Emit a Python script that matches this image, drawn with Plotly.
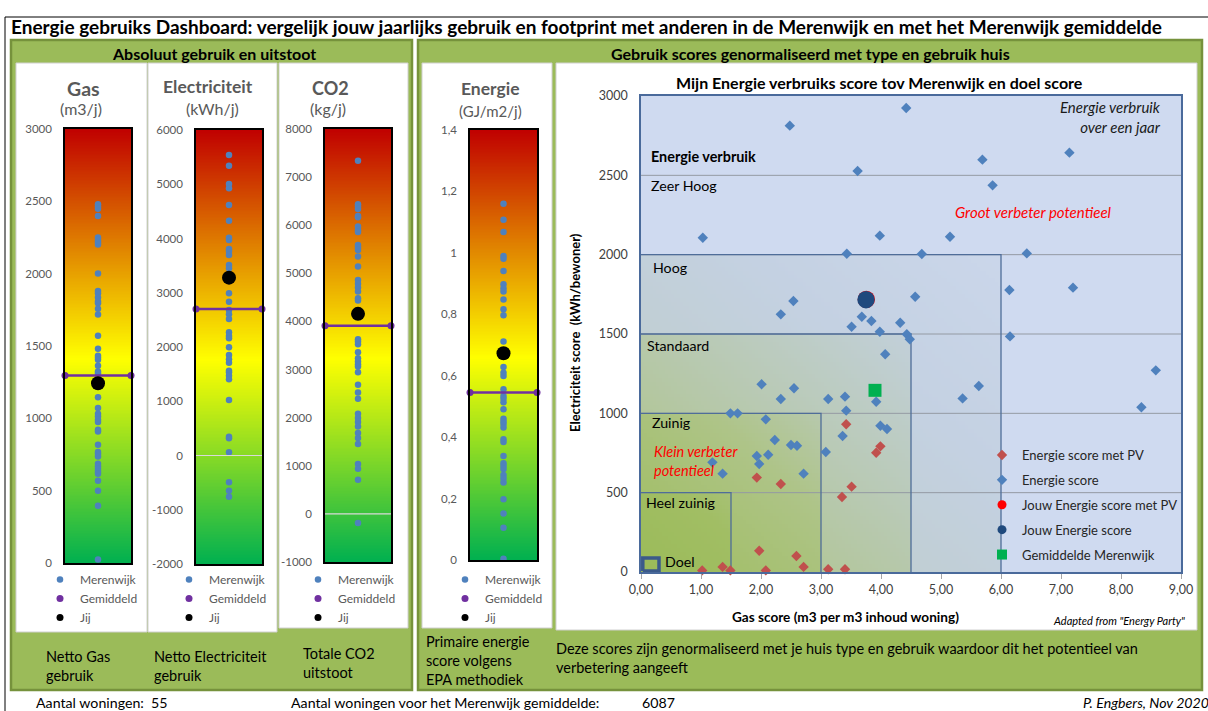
import numpy as np
import plotly.graph_objects as go

W, H = 1208, 711
FONT = "Lato, Carlito, Calibri, sans-serif"


def px(x):
    return x / W


def py(y):
    return 1 - y / H


# ---------------- DATA ----------------
# Gauge columns (Merenwijk households, average, you)
gas_merenwijk = [2480, 2464, 2448, 2399, 2250, 2233, 2217, 2201, 2001, 1881, 1865, 1835, 1807, 1796,
                 1757, 1718, 1570, 1481, 1432, 1419, 1405, 1363, 1324, 1312, 1146, 1071, 1031, 1013,
                 990, 974, 921, 909, 817, 767, 753, 737, 686, 668, 652, 633, 617, 569, 500, 396, 25]
gas_gemiddeld = 1296
gas_jij = 1243

elec_merenwijk = [5539, 5343, 5005, 4925, 4618, 4329, 4015, 3972, 3806, 3770, 3696, 3512, 3450, 2989,
                  2836, 2682, 2602, 2516, 2270, 2203, 2160, 1994, 1853, 1773, 1711, 1564, 1533, 1472,
                  1404, 1023, 347, 316, 58, -495, -649, -759]
elec_gemiddeld = 2700
elec_jij = 3278

co2_merenwijk = [7342, 6435, 6387, 6338, 6193, 6165, 5972, 5902, 5861, 5591, 5535, 5487, 5348, 5141,
                 4864, 4781, 4705, 4622, 4483, 4435, 3632, 3583, 3528, 3362, 3237, 3168, 3112, 3064,
                 2946, 2683, 2524, 2393, 2081, 1991, 1908, 1818, 1680, 1576, 1451, 1036, 939, 710, -190]
co2_gemiddeld = 3908
co2_jij = 4158

energie_merenwijk = [1.160, 1.108, 1.068, 0.990, 0.981, 0.941, 0.898, 0.885, 0.874, 0.848, 0.816,
                     0.797, 0.711, 0.628, 0.610, 0.599, 0.556, 0.534, 0.525, 0.514, 0.491, 0.460,
                     0.451, 0.443, 0.431, 0.393, 0.384, 0.339, 0.315, 0.306, 0.296, 0.277, 0.265,
                     0.252, 0.198, 0.151, 0.105, 0.004]
energie_gemiddeld = 0.545
energie_jij = 0.673

gas_ticks = [0, 500, 1000, 1500, 2000, 2500, 3000]
gas_ticklabels = ["0", "500", "1000", "1500", "2000", "2500", "3000"]
elec_ticks = [-2000, -1000, 0, 1000, 2000, 3000, 4000, 5000, 6000]
elec_ticklabels = ["-2000", "-1000", "0", "1000", "2000", "3000", "4000", "5000", "6000"]
co2_ticks = [-1000, 0, 1000, 2000, 3000, 4000, 5000, 6000, 7000, 8000]
co2_ticklabels = ["-1000", "0", "1000", "2000", "3000", "4000", "5000", "6000", "7000", "8000"]
energie_ticks = [0, 0.2, 0.4, 0.6, 0.8, 1.0, 1.2, 1.4]
energie_ticklabels = ["0", "0,2", "0,4", "0,6", "0,8", "1", "1,2", "1,4"]

# Scatter: normalised scores
score_gas = [4.42, 2.48, 7.14, 5.69, 3.61, 5.86, 1.03, 3.98, 5.15, 3.43, 4.68, 6.43, 6.14, 7.20,
             4.57, 2.54, 2.33, 3.68, 3.84, 3.51, 4.32, 3.98, 4.43, 4.48, 6.15, 4.07, 8.58, 5.63,
             5.36, 8.34, 3.92, 2.01, 2.55, 2.33, 3.12, 3.40, 3.42, 1.49, 1.61, 2.08, 3.99, 4.10,
             2.23, 2.50, 2.60, 3.36, 3.08, 1.93, 2.12, 1.97, 1.19, 1.36, 2.71]
score_elec = [2924, 2813, 2643, 2599, 2527, 2437, 2107, 2120, 2113, 2006, 2004, 2008, 1777, 1792,
              1735, 1708, 1624, 1609, 1582, 1546, 1571, 1514, 1498, 1467, 1485, 1372, 1271, 1172,
              1094, 1038, 1073, 1183, 1158, 1090, 1090, 1105, 1017, 1000, 1000, 962, 922, 901,
              832, 800, 796, 857, 756, 731, 739, 681, 691, 620, 620]
pv_gas = [3.42, 3.99, 3.92, 1.93, 2.33, 3.51, 3.35, 1.97, 2.59, 2.71, 1.36, 1.02, 1.49, 2.08, 3.12, 3.40]
pv_elec = [931, 792, 752, 595, 555, 538, 473, 134, 101, 32, 32, 10, 10, 10, 17, 17]
jouw_gas = [3.75]
jouw_elec = [1716]
jouw_pv_gas = [3.755]
jouw_pv_elec = [1718]
gem_gas = [3.90]
gem_elec = [1145]

score_xticks = [0, 1, 2, 3, 4, 5, 6, 7, 8, 9]
score_xticklabels = ["0,00", "1,00", "2,00", "3,00", "4,00", "5,00", "6,00", "7,00", "8,00", "9,00"]
score_yticks = [0, 500, 1000, 1500, 2000, 2500, 3000]
score_yticklabels = ["0", "500", "1000", "1500", "2000", "2500", "3000"]

# category boundaries (Heel zuinig, Zuinig, Standaard, Hoog)
level_gas = [1.5, 3.0, 4.5, 6.0]
level_elec = [500, 1000, 1500, 2000]
doel_gas = [0.03, 0.30]
doel_elec = [6, 88]
grid_elec = [500, 1000, 1500, 2000, 2500]

# ---------------- FIGURE ----------------
fig = go.Figure()
annotations = []
shapes = []


def T(text, x, y, size=13, color="#000000", bold=False, italic=False, xanchor="left",
      yanchor="middle", align="left", angle=0):
    if bold:
        text = "<b>" + text + "</b>"
    if italic:
        text = "<i>" + text + "</i>"
    annotations.append(dict(text=text, x=px(x), y=py(y), xref="paper", yref="paper",
                            xanchor=xanchor, yanchor=yanchor, showarrow=False, align=align,
                            textangle=angle, font=dict(size=size, color=color, family=FONT)))


def R(x0, y0, x1, y1, fill=None, line="#000000", lw=1, layer="below"):
    shapes.append(dict(type="rect", xref="paper", yref="paper", x0=px(x0), x1=px(x1),
                       y0=py(y0), y1=py(y1), fillcolor=fill if fill else "rgba(0,0,0,0)",
                       line=dict(color=line, width=lw), layer=layer))


# panels
R(5, 17, 1400, 900, None, "#000000", 1)
R(11, 40, 412, 690, "#9BBB59", "#76923C", 2.5)
R(418, 40, 1202, 690, "#9BBB59", "#76923C", 2.5)
R(16, 63, 147, 632, "white", "#D0D0D0", 1)
R(148, 63, 277, 632, "white", "#D0D0D0", 1)
R(279, 63, 408, 628, "white", "#D0D0D0", 1)
R(422, 63, 552, 628, "white", "#D0D0D0", 1)
R(556, 63, 1197, 630, "white", "#D0D0D0", 1)

GAUGE_CS = [[0, "#00B050"], [0.47, "#FFFF00"], [1, "#C00000"]]

gauges = [
    dict(n=2, vals=gas_merenwijk, avg=gas_gemiddeld, jij=gas_jij, rng=[0, 3000],
         tv=gas_ticks, tt=gas_ticklabels, xd=(65, 131), yd=(129, 563), lx=40),
    dict(n=3, vals=elec_merenwijk, avg=elec_gemiddeld, jij=elec_jij, rng=[-2000, 6000],
         tv=elec_ticks, tt=elec_ticklabels, xd=(196, 262), yd=(130, 564), lx=169),
    dict(n=4, vals=co2_merenwijk, avg=co2_gemiddeld, jij=co2_jij, rng=[-1000, 8000],
         tv=co2_ticks, tt=co2_ticklabels, xd=(325, 391), yd=(129, 562), lx=298),
    dict(n=5, vals=energie_merenwijk, avg=energie_gemiddeld, jij=energie_jij, rng=[0, 1.4],
         tv=energie_ticks, tt=energie_ticklabels, xd=(470, 537), yd=(130, 560), lx=445),
]

layout_axes = {}
for g in gauges:
    n = g["n"]
    xa, ya = "x%d" % n, "y%d" % n
    lg = "legend%d" % n
    r0, r1 = g["rng"]
    edges = np.linspace(r0, r1, 301)
    centers = (edges[:-1] + edges[1:]) / 2
    zcol = [[(c - r0) / (r1 - r0)] for c in centers]
    fig.add_trace(go.Heatmap(x=[-1, 1], y=edges, z=zcol, colorscale=GAUGE_CS, zmin=0, zmax=1,
                             showscale=False, hoverinfo="skip", xaxis=xa, yaxis=ya))
    fig.add_trace(go.Scatter(x=[0] * len(g["vals"]), y=g["vals"], mode="markers", name="Merenwijk",
                             marker=dict(color="#4F81BD", size=6.5), xaxis=xa, yaxis=ya, legend=lg))
    fig.add_trace(go.Scatter(x=[-1, 1], y=[g["avg"], g["avg"]], mode="lines", showlegend=False,
                             line=dict(color="#7030A0", width=2.5), cliponaxis=False,
                             xaxis=xa, yaxis=ya, hoverinfo="skip"))
    fig.add_trace(go.Scatter(x=[-1, 1], y=[g["avg"], g["avg"]], mode="markers", name="Gemiddeld",
                             marker=dict(color="#7030A0", size=7), cliponaxis=False,
                             xaxis=xa, yaxis=ya, legend=lg))
    fig.add_trace(go.Scatter(x=[0], y=[g["jij"]], mode="markers", name="Jij",
                             marker=dict(color="black", size=[7], sizeref=0.5, sizemode="diameter",
                                         opacity=1, line=dict(width=0)),
                             xaxis=xa, yaxis=ya, legend=lg))
    if r0 < 0:
        shapes.append(dict(type="line", xref=xa + " domain", yref=ya, x0=0, x1=1, y0=0, y1=0,
                           line=dict(color="#D9D9D9", width=1.2), layer="above"))
    layout_axes["xaxis%d" % n] = dict(domain=[px(g["xd"][0]), px(g["xd"][1])], range=[-1, 1],
                                      anchor=ya, showticklabels=False, showgrid=False, zeroline=False,
                                      showline=True, mirror=True, linecolor="black", linewidth=1.5,
                                      layer="above traces", fixedrange=True, automargin=False)
    layout_axes["yaxis%d" % n] = dict(domain=[py(g["yd"][1]), py(g["yd"][0])], range=[r0, r1],
                                      anchor=xa, tickvals=g["tv"], ticktext=g["tt"], ticks="",
                                      tickfont=dict(size=11.5, color="#595959", family=FONT),
                                      ticklabelstandoff=9, showgrid=False, zeroline=False,
                                      showline=True, mirror=True, linecolor="black", linewidth=1.5,
                                      layer="above traces", fixedrange=True, automargin=False)
    layout_axes[lg] = dict(x=px(g["lx"]), y=py(565), xanchor="left", yanchor="top",
                           bgcolor="rgba(0,0,0,0)", font=dict(size=12, color="#595959", family=FONT),
                           tracegroupgap=0, itemwidth=30)

# ---- scatter background gradient (style only) ----
gx = np.arange(0.025, 9, 0.05)
gy = np.arange(12.5, 3000, 25)
GX, GY = np.meshgrid(gx, gy)
GZ = np.zeros_like(GX)
for bx, by in zip(level_gas, level_elec):
    inside = (GX <= bx) & (GY <= by)
    GZ += 0.25 * inside * (1 - 0.4 * (GX / bx + GY / by))
BG_CS = [[0, "#CFDAF0"], [0.12, "#C4D1E2"], [0.3, "#B8C9B2"], [0.45, "#AEC488"],
         [0.7, "#A1BE64"], [1, "#9BBB59"]]
fig.add_trace(go.Heatmap(x=gx, y=gy, z=GZ, colorscale=BG_CS, zmin=0, zmax=1, showscale=False,
                         hoverinfo="skip", xaxis="x", yaxis="y"))

# gridlines
glx, gly = [], []
for v in grid_elec:
    glx += [0, 9, None]
    gly += [v, v, None]
fig.add_trace(go.Scatter(x=glx, y=gly, mode="lines", line=dict(color="#949AA3", width=1),
                         showlegend=False, hoverinfo="skip"))
# category boxes
bxs, bys = [], []
for bx, by in zip(level_gas, level_elec):
    bxs += [0, bx, bx, None]
    bys += [by, by, 0, None]
fig.add_trace(go.Scatter(x=bxs, y=bys, mode="lines", line=dict(color="#4F6D99", width=1.3),
                         showlegend=False, hoverinfo="skip", cliponaxis=False))
fig.add_trace(go.Scatter(x=[doel_gas[0], doel_gas[1], doel_gas[1], doel_gas[0], doel_gas[0]],
                         y=[doel_elec[0], doel_elec[0], doel_elec[1], doel_elec[1], doel_elec[0]],
                         mode="lines", line=dict(color="#3B5A8A", width=3.5), showlegend=False,
                         hoverinfo="skip", cliponaxis=False))

fig.add_trace(go.Scatter(x=pv_gas, y=pv_elec, mode="markers", name="Energie score met PV",
                         marker=dict(symbol="diamond", color="#C0504D", size=8),
                         legendgroup="a", cliponaxis=False))
fig.add_trace(go.Scatter(x=score_gas, y=score_elec, mode="markers", name="Energie score",
                         marker=dict(symbol="diamond", color="#4F81BD", size=8),
                         legendgroup="b"))
fig.add_trace(go.Scatter(x=jouw_pv_gas, y=jouw_pv_elec, mode="markers", name="Jouw Energie score met PV",
                         marker=dict(color="#FF0000", size=[9], sizeref=0.52, sizemode="diameter",
                                     opacity=1, line=dict(width=0)),
                         legendgroup="c"))
fig.add_trace(go.Scatter(x=jouw_gas, y=jouw_elec, mode="markers", name="Jouw Energie score",
                         marker=dict(color="#1F497D", size=[9], sizeref=0.52, sizemode="diameter",
                                     opacity=1, line=dict(width=0)),
                         legendgroup="d"))
fig.add_trace(go.Scatter(x=gem_gas, y=gem_elec, mode="markers", name="Gemiddelde Merenwijk",
                         marker=dict(symbol="square", color="#00B050", size=[10], sizeref=0.77,
                                     sizemode="diameter", opacity=1, line=dict(width=0)),
                         legendgroup="e"))

# ---------------- TEXT ----------------
T("Energie gebruiks Dashboard: vergelijk jouw jaarlijks gebruik en footprint met anderen in de "
  "Merenwijk en met het Merenwijk gemiddelde", 9, 27, 19, bold=True)
T("Absoluut gebruik en uitstoot", 214, 53, 16, bold=True, xanchor="center")
T("Gebruik scores genormaliseerd met type en gebruik huis", 810, 53, 16, bold=True, xanchor="center")

GRAY = "#595959"
T("Gas", 83, 88, 19.5, GRAY, bold=True, xanchor="center")
T("(m3/j)", 81, 109, 16, GRAY, xanchor="center")
T("Electriciteit", 208, 86, 17.5, GRAY, bold=True, xanchor="center")
T("(kWh/j)", 212, 108, 16, GRAY, xanchor="center")
T("CO2", 330, 88, 18, GRAY, bold=True, xanchor="center")
T("(kg/j)", 328, 108, 16, GRAY, xanchor="center")
T("Energie", 490, 89, 17.5, GRAY, bold=True, xanchor="center")
T("(GJ/m2/j)", 490, 111, 15, GRAY, xanchor="center")

T("Netto Gas<br>gebruik", 44, 666, 14.5)
T("Netto Electriciteit<br>gebruik", 152, 666, 14.5)
T("Totale CO2<br>uitstoot", 301, 663, 14.5)
T("Primaire energie<br>score volgens<br>EPA methodiek", 424, 660, 14.5)
T("Deze scores zijn genormaliseerd met je huis type en gebruik waardoor dit het potentieel van<br>"
  "verbetering aangeeft", 554, 658, 14.5)

T("Aantal woningen:  55", 34, 702, 14.2)
T("Aantal woningen voor het Merenwijk gemiddelde:", 289, 702, 14.2)
T("6087", 640, 702, 14.2)
T("P. Engbers, Nov 2020", 1211, 702, 14.2, italic=True, xanchor="right")

# scatter texts
T("Mijn Energie verbruiks score tov Merenwijk en doel score", 880, 82, 16, bold=True, xanchor="center")
T("Electriciteit score  (kWh/bewoner)", 575, 333, 13, bold=True, xanchor="center", angle=-90)
T("Gas score (m3 per m3 inhoud woning)", 845, 617, 13.6, bold=True, xanchor="center")
T('Adapted from "Energy Party"', 1119, 620, 11, italic=True, xanchor="center")
T("Energie verbruik", 649, 156, 14.4, bold=True)
T("Zeer Hoog", 649, 185, 14.2)
T("Hoog", 651, 267, 14.2)
T("Standaard", 645, 345, 14.2)
T("Zuinig", 650, 423, 14.2)
T("Heel zuinig", 644, 502, 14.2)
T("Doel", 663, 561, 14.2)
T("Energie verbruik<br>over een jaar", 1163, 117, 15, "#1A1A1A", italic=True, xanchor="right", align="right")
T("Groot verbeter potentieel", 1033, 212, 15, "#FF0000", italic=True, xanchor="center")
T("Klein verbeter<br>potentieel", 652, 461, 14.5, "#FF0000", italic=True)

fig.update_layout(
    width=W, height=H, margin=dict(l=0, r=0, t=0, b=0, autoexpand=False),
    paper_bgcolor="white", plot_bgcolor="rgba(0,0,0,0)",
    font=dict(family=FONT, color="#404040"),
    showlegend=True,
    xaxis=dict(domain=[px(641), px(1181)], range=[0, 9], tickvals=score_xticks,
               ticktext=score_xticklabels, ticks="outside", ticklen=5, tickcolor="#A6A6A6",
               tickfont=dict(size=12.5, color="#404040", family=FONT), showgrid=False, zeroline=False,
               showline=True, mirror=True, linecolor="#4A6A9B", linewidth=1.5,
               layer="above traces", anchor="y", fixedrange=True, automargin=False),
    yaxis=dict(domain=[py(572), py(96)], range=[0, 3000], tickvals=score_yticks,
               ticktext=score_yticklabels, ticks="", ticklabelstandoff=9,
               tickfont=dict(size=12.5, color="#404040", family=FONT), showgrid=False, zeroline=False,
               showline=True, mirror=True, linecolor="#4A6A9B", linewidth=1.5,
               layer="above traces", anchor="x", fixedrange=True, automargin=False),
    legend=dict(x=px(982), y=py(440), xanchor="left", yanchor="top", bgcolor="rgba(0,0,0,0)",
                font=dict(size=13, color="#262626", family=FONT), traceorder="grouped",
                tracegroupgap=5, itemwidth=30),
    annotations=annotations,
    shapes=shapes,
    **layout_axes,
)

fig.write_html("out.html", config={"displayModeBar": False, "staticPlot": False},
               post_script=["document.body.style.margin='0px';document.body.style.overflow='hidden';"])
